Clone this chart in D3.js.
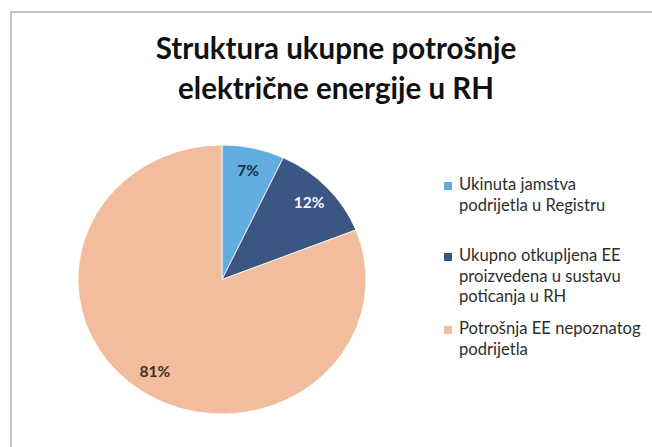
<!DOCTYPE html>
<html>
<head>
<meta charset="utf-8">
<script src="https://cdn.jsdelivr.net/npm/d3@7"></script>
<style>
  html, body { margin: 0; padding: 0; background: #fff; }
  svg { display: block; }
</style>
</head>
<body>
<div id="chart"></div>
<script>
// Chart data.
const titleLines = ["Struktura ukupne potrošnje", "električne energije u RH"];
const categories = [
  ["Ukinuta jamstva", "podrijetla u Registru"],
  ["Ukupno otkupljena EE", "proizvedena u sustavu", "poticanja u RH"],
  ["Potrošnja EE nepoznatog", "podrijetla"],
];
const shares = [7, 12, 81];
const colors = ["#62ade0", "#3b5683", "#f1bd9d"];
const labelColors = ["#1e2c44", "#f4f6fa", "#3a3028"];

const width = 652;
const height = 447;
const fontFamily = "Lato, 'Open Sans', sans-serif";

const svg = d3
  .select("#chart")
  .append("svg")
  .attr("width", width)
  .attr("height", height);

// Frame of the chart area (only top and left edges are visible).
svg
  .append("path")
  .attr("d", `M11,${height} L11,12 L${width},12`)
  .attr("fill", "none")
  .attr("stroke", "#b4b4b4")
  .attr("stroke-width", 1.5);

// Title.
svg
  .append("g")
  .selectAll("text")
  .data(titleLines)
  .join("text")
  .attr("x", 336)
  .attr("y", (d, i) => 59 + i * 40)
  .attr("text-anchor", "middle")
  .attr("font-family", fontFamily)
  .attr("font-weight", "bold")
  .attr("font-size", 29.5)
  .attr("fill", "#111")
  .text((d) => d);

// Pie (scanned image is slightly squashed vertically).
const rx = 144;
const ry = 134.5;
const pie = d3.pie().sort(null).value((d) => d);
const arcs = pie(shares);
const arc = d3.arc().innerRadius(0).outerRadius(rx);

const pieG = svg
  .append("g")
  .attr("transform", `translate(222, 279.5) scale(1, ${ry / rx})`);

pieG
  .selectAll("path")
  .data(arcs)
  .join("path")
  .attr("d", arc)
  .attr("fill", (d, i) => colors[i])
  .attr("stroke", "#fff")
  .attr("stroke-width", 0.8);

// Data labels.
const labelArc = d3.arc().innerRadius(rx * 0.83).outerRadius(rx * 0.83);
svg
  .append("g")
  .selectAll("text")
  .data(arcs)
  .join("text")
  .attr("x", (d) => 222 + labelArc.centroid(d)[0])
  .attr("y", (d) => 279.5 + labelArc.centroid(d)[1] * (ry / rx) + 5)
  .attr("text-anchor", "middle")
  .attr("font-family", fontFamily)
  .attr("font-weight", "bold")
  .attr("font-size", 15.5)
  .attr("fill", (d, i) => labelColors[i])
  .text((d) => `${d.data}%`);

// Legend.
const legendTop = [190, 261, 334];
const legend = svg
  .append("g")
  .selectAll("g")
  .data(categories)
  .join("g")
  .attr("transform", (d, i) => `translate(444, ${legendTop[i]})`);

legend
  .append("rect")
  .attr("x", 0)
  .attr("y", -8)
  .attr("width", 8)
  .attr("height", 8)
  .attr("fill", (d, i) => colors[i]);

legend
  .selectAll("text")
  .data((d) => d)
  .join("text")
  .attr("x", 15)
  .attr("y", (d, i) => i * 20.5)
  .attr("font-family", fontFamily)
  .attr("font-size", 16.6)
  .attr("fill", "#2e2e2e")
  .text((d) => d);
</script>
</body>
</html>
